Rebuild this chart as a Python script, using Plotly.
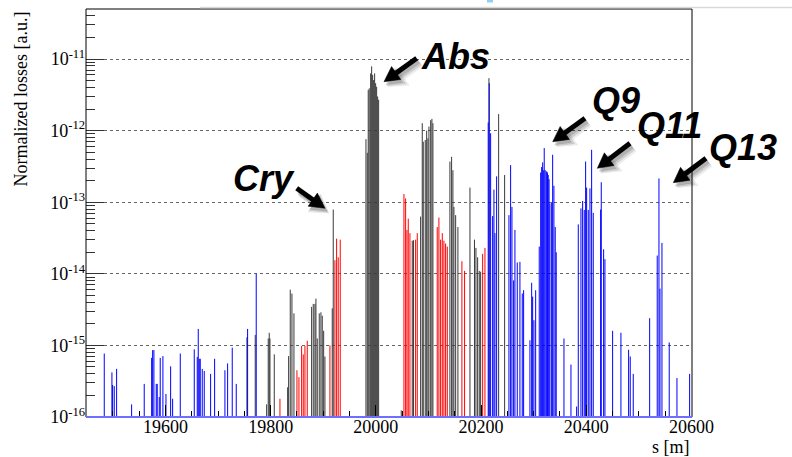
import math
import plotly.graph_objects as go

# Longitudinal position s [m] of each loss bin and its normalized loss, per element class
blue_s = [19483.7, 19498.3, 19499.6, 19502.7, 19507.2, 19535.7, 19559.7, 19573.8, 19575.7, 19578.1,
          19582.5, 19584.4, 19588.2, 19590.1, 19595.2, 19601.0, 19609.9, 19613.7, 19628.2, 19654.8,
          19660.5, 19662.4, 19664.3, 19666.2, 19670.0, 19673.8, 19685.9, 19693.5, 19713.1, 19718.2,
          19727.0, 19734.6, 19756.2, 19772.6,
          20213.6, 20215.6, 20218.2, 20222.0, 20224.5, 20226.4, 20229.6,
          20253.0, 20256.2, 20258.7, 20261.9, 20264.4, 20268.8, 20273.9, 20278.3, 20280.9,
          20292.9, 20296.2, 20298.1, 20300.5, 20303.8,
          20310.6, 20313.3, 20315.2, 20317.1, 20318.3, 20320.1, 20322.0, 20324.7, 20326.2, 20327.7,
          20329.3, 20330.9, 20334.2, 20336.1, 20338.5, 20341.0, 20342.9,
          20357.6, 20370.9, 20381.7,
          20384.8, 20389.9, 20393.1, 20396.2, 20398.8, 20400.7, 20403.8, 20407.0, 20410.2, 20413.3,
          20427.3, 20428.5, 20433.0, 20435.5, 20450.1, 20465.9, 20480.5, 20483.6, 20489.3,
          20520.5, 20534.9, 20538.2, 20540.1, 20543.9, 20557.7, 20572.4, 20596.5]
blue_v = [7.7e-16, 4.2e-16, 2.8e-16, 2.7e-16, 4.7e-16, 1.5e-16, 2.9e-16, 6.7e-16, 8.6e-16, 8.6e-16,
          2.9e-16, 2.9e-16, 1.9e-16, 6.7e-16, 7.1e-16, 2.1e-16, 5.1e-16, 1.8e-16, 7.7e-16, 8.8e-16,
          6.9e-16, 1.7e-15, 6.5e-16, 6.5e-16, 4.7e-16, 4.4e-16, 4.0e-16, 6.5e-16, 4.5e-16, 5.6e-16,
          9.3e-16, 2.9e-16, 1.7e-15, 1.0e-14,
          1.3e-12, 4.6e-12, 9.2e-13, 6.4e-14, 1.5e-13, 3.7e-14, 2.3e-13,
          6.6e-14, 3.3e-13, 8.6e-14, 8.1e-15, 4.1e-14, 1.44e-14, 1.47e-14, 5.3e-15, 5.9e-15,
          1.18e-15, 7.5e-15, 4.8e-15, 2.25e-15, 5.9e-15,
          2.4e-14, 2.6e-13, 3.1e-13, 3.6e-13, 2.8e-13, 5.7e-13, 2.8e-13, 2.7e-13, 2.6e-13, 2.4e-13,
          2.1e-13, 9.6e-14, 1.0e-13, 4.6e-13, 1.7e-13, 4.5e-14, 2.0e-14,
          1.25e-15, 5.4e-16, 1.4e-16,
          4.9e-14, 8.2e-14, 1.04e-13, 7.8e-14, 3.7e-13, 1.6e-13, 7.8e-14, 1.56e-13, 5.4e-13, 7.1e-14,
          7.9e-14, 1.9e-13, 2.2e-14, 1.6e-14, 1.6e-15, 1.5e-15, 8.7e-16, 7.0e-16, 4.0e-16,
          2.4e-15, 1.8e-14, 2.15e-13, 6.2e-15, 2.7e-14, 1.1e-15, 3.5e-16, 4.0e-16]

black_s = [19754.9, 19770.7, 19792.4, 19795.4, 19797.3, 19798.7, 19806.9, 19832.3, 19834.2, 19837.3,
           19840.5, 19844.3,
           19877.9, 19881.0, 19884.2, 19886.1, 19888.6, 19892.4, 19895.6, 19898.1, 19900.8, 19903.2,
           19917.1, 19919.0,
           19981.2, 19983.7, 19985.5, 19987.4, 19990.1, 19992.0, 19993.9, 19995.8, 19997.7, 19999.6,
           20001.5, 20003.4, 20005.3,
           20048.3, 20069.2, 20071.5,
           20085.1, 20088.2, 20090.1, 20093.9, 20096.6, 20099.0, 20100.9, 20104.2, 20106.6, 20108.5,
           20140.8, 20144.0, 20146.5, 20148.4, 20151.7, 20156.0, 20178.9, 20187.5, 20190.3, 20193.5,
           20196.6, 20199.2,
           20215.0, 20233.4, 20244.8]
black_v = [1.3e-15, 1.4e-15, 1.5e-16, 1.25e-15, 1.5e-15, 1.25e-15, 7.5e-16, 2.6e-16, 7.1e-16, 6.0e-15,
           5.3e-15, 2.8e-15,
           3.45e-15, 3.8e-15, 3.8e-15, 4.5e-15, 1.25e-15, 2.8e-15, 2.9e-15, 2.6e-15, 1.6e-15, 7.0e-16,
           3.3e-15, 7.9e-14,
           7.6e-13, 4.9e-13, 3.7e-12, 3.9e-12, 6.3e-12, 7.9e-12, 6.0e-12, 5.1e-12, 6.3e-12, 4.6e-12,
           4.1e-12, 3.0e-12, 2.7e-12,
           1.24e-16, 2.9e-14, 2.95e-14,
           6.3e-14, 1.27e-12, 7.0e-13, 7.4e-13, 1.0e-12, 7.8e-13, 1.14e-12, 1.4e-12, 1.46e-12, 1.27e-12,
           3.7e-13, 4.3e-13, 2.8e-13, 8.6e-14, 6.6e-14, 4.5e-14, 1.6e-13, 3.0e-14, 2.3e-14, 1.7e-14,
           1.1e-14, 1.07e-14,
           5.4e-12, 1.7e-12, 2.4e-13]

red_s = [19817.7, 19850.0, 19853.8, 19858.9, 19862.0, 19865.2, 19869.6, 19912.7, 19922.2, 19925.4,
         19928.5, 19932.3,
         20053.4, 20056.6, 20059.1, 20061.6, 20064.8, 20075.6, 20078.7,
         20116.7, 20119.9, 20123.1, 20126.3, 20129.4, 20132.6, 20135.8,
         20163.6, 20168.7, 20203.0, 20207.4]
red_v = [1.8e-16, 4.5e-16, 3.6e-16, 9.8e-16, 7.5e-16, 9.8e-16, 1.16e-15, 1.0e-15, 1.55e-14, 3.1e-14,
         1.7e-14, 3.0e-14,
         1.3e-13, 1.13e-13, 4.1e-14, 5.9e-14, 3.7e-14, 3.0e-14, 3.7e-14,
         4.5e-14, 6.1e-14, 3.0e-14, 3.7e-14, 2.9e-14, 2.65e-14, 2.4e-14,
         1.5e-14, 1.1e-14, 1.9e-14, 2.3e-14]

x_ticks = [19600, 19800, 20000, 20200, 20400, 20600]
y_exponents = [-16, -15, -14, -13, -12, -11]

Y_FLOOR = 1e-16
Y_TOP = 5e-11
X_RANGE = [19449, 20601]


def stems(s, v):
    """Vertical histogram spikes from the axis floor up to each value."""
    xs, ys = [], []
    for a, b in zip(s, v):
        xs += [a, a, None]
        ys += [Y_FLOOR, b, None]
    return xs, ys


fig = go.Figure()
for s, v, col in [(black_s, black_v, "#3a3a3a"),
                  (red_s, red_v, "#ff0000"),
                  (blue_s, blue_v, "#0000ff")]:
    xs, ys = stems(s, v)
    fig.add_trace(go.Scatter(x=xs, y=ys, mode="lines",
                             line=dict(color=col, width=1),
                             hoverinfo="skip", showlegend=False))

# page geometry (pixels) of the frame
W, H = 792, 457
L, R, T, B = 86, 692, 9, 417


def px(xp, yp):
    return (xp - L) / (R - L), (B - yp) / (B - T)


serif = "Liberation Serif, Times New Roman, serif"
sans = "Liberation Sans, Arial, sans-serif"


def arrow_shapes(tail, head, color, shaft, head_len, head_half):
    """Thick arrow as a line plus a filled triangular head (page pixels)."""
    (tx, ty), (hx, hy) = tail, head
    dx, dy = hx - tx, hy - ty
    n = math.hypot(dx, dy)
    ux, uy = dx / n, dy / n
    bx, by = hx - ux * head_len, hy - uy * head_len
    nx, ny = -uy, ux
    p_tail = px(tx, ty)
    p_base = px(bx + ux * 1.5, by + uy * 1.5)
    pts = [px(hx, hy), px(bx + nx * head_half, by + ny * head_half),
           px(bx - nx * head_half, by - ny * head_half)]
    path = "M {} {} L {} {} L {} {} Z".format(*[c for p in pts for c in p])
    return [
        dict(type="line", xref="paper", yref="paper", x0=p_tail[0], y0=p_tail[1],
             x1=p_base[0], y1=p_base[1], line=dict(color=color, width=shaft), layer="above"),
        dict(type="path", xref="paper", yref="paper", path=path, fillcolor=color,
             line=dict(color=color, width=0.5), layer="above"),
    ]


annotations = []
shapes = []

# labels with arrows: (text, text centre, arrow tail, arrow head)
callouts = [
    ("Abs", (455, 56), (416.7, 58.3), (384, 81.7)),
    ("Cry", (264, 178), (296.7, 188.3), (325, 208.3)),
    ("Q9", (616, 100), (585, 118.3), (552.7, 141.7)),
    ("Q11", (669, 125), (630, 143.3), (597.3, 168.3)),
    ("Q13", (743, 147), (706, 158.3), (673.3, 182.7)),
]
for text, (cx, cy), tail, head in callouts:
    # soft drop shadow
    for off, grow, alpha in [(4, 3, 0.07), (3, 1.5, 0.12), (2, 0, 0.15)]:
        shapes += arrow_shapes((tail[0] + off, tail[1] + off + 1), (head[0] + off, head[1] + off + 1),
                               f"rgba(0,0,0,{alpha})", 5 + grow, 15 + grow, 8 + grow)
    shapes += arrow_shapes(tail, head, "black", 5, 15, 8)
    lx, ly = px(cx, cy)
    annotations.append(dict(x=lx, y=ly, xref="paper", yref="paper", showarrow=False,
                            text=f"<b><i>{text}</i></b>", xanchor="center", yanchor="middle",
                            font=dict(family=sans, size=36, color="black")))

# axis titles
tx_, ty_ = px(20, 10)
annotations.append(dict(x=tx_, y=ty_, xref="paper", yref="paper", showarrow=False,
                        text="Normalized losses [a.u.]", textangle=-90,
                        xanchor="center", yanchor="top",
                        font=dict(family=serif, size=18, color="black")))
sx_, sy_ = px(R, 447)
annotations.append(dict(x=sx_, y=sy_, xref="paper", yref="paper", showarrow=False,
                        text="s [m]", xanchor="right", yanchor="middle",
                        font=dict(family=serif, size=18, color="black")))

shapes += [
    dict(type="rect", xref="paper", yref="paper", x0=0, y0=0, x1=1, y1=1,
         line=dict(color="black", width=1), layer="above"),
    dict(type="line", xref="paper", yref="paper", x0=0, y0=0, x1=1, y1=0,
         line=dict(color="#6e6eff", width=2), layer="above"),
]
g0x, g0y = px(200, 7.5)
g1x, _ = px(W, 7.5)
shapes.append(dict(type="line", xref="paper", yref="paper", x0=g0x, y0=g0y, x1=g1x, y1=g0y,
                   line=dict(color="#d9d9d9", width=1.5)))
c0x, c0y = px(487, 2.5)
c1x, c1y = px(493, -1)
shapes.append(dict(type="rect", xref="paper", yref="paper", x0=c0x, y0=c0y, x1=c1x, y1=c1y,
                   line=dict(width=0), fillcolor="#8fd0ee"))

minor_y = [k * 10.0 ** e for e in range(-16, -10) for k in range(2, 10)]

fig.update_layout(
    width=W, height=H,
    margin=dict(l=L, r=W - R, t=T, b=H - B),
    paper_bgcolor="white", plot_bgcolor="white",
    showlegend=False,
    annotations=annotations,
    shapes=shapes,
    xaxis=dict(range=X_RANGE, tickmode="array", tickvals=x_ticks,
               ticktext=[str(t) for t in x_ticks],
               ticks="inside", ticklen=12, tickwidth=1, tickcolor="black",
               ticklabelstandoff=-3,
               showgrid=False, zeroline=False, showline=False,
               tickfont=dict(family=serif, size=18, color="black"),
               minor=dict(tickmode="linear", tick0=19600, dtick=50, ticks="inside",
                          ticklen=6, tickwidth=1, tickcolor="black", showgrid=False)),
    yaxis=dict(type="log", range=[math.log10(Y_FLOOR), math.log10(Y_TOP)],
               tickmode="array", tickvals=[10.0 ** e for e in y_exponents],
               ticktext=[f"10<sup>{e}</sup>" for e in y_exponents],
               ticks="inside", ticklen=18, tickwidth=1, tickcolor="#333333",
               showgrid=True, gridcolor="rgba(0,0,0,0.6)", griddash="dot", gridwidth=1,
               zeroline=False, showline=False,
               tickfont=dict(family=serif, size=18, color="black"),
               minor=dict(tickmode="array", tickvals=minor_y, ticks="inside",
                          ticklen=9, tickwidth=1, tickcolor="#333333", showgrid=False)),
)

fig.write_html("out.html")
